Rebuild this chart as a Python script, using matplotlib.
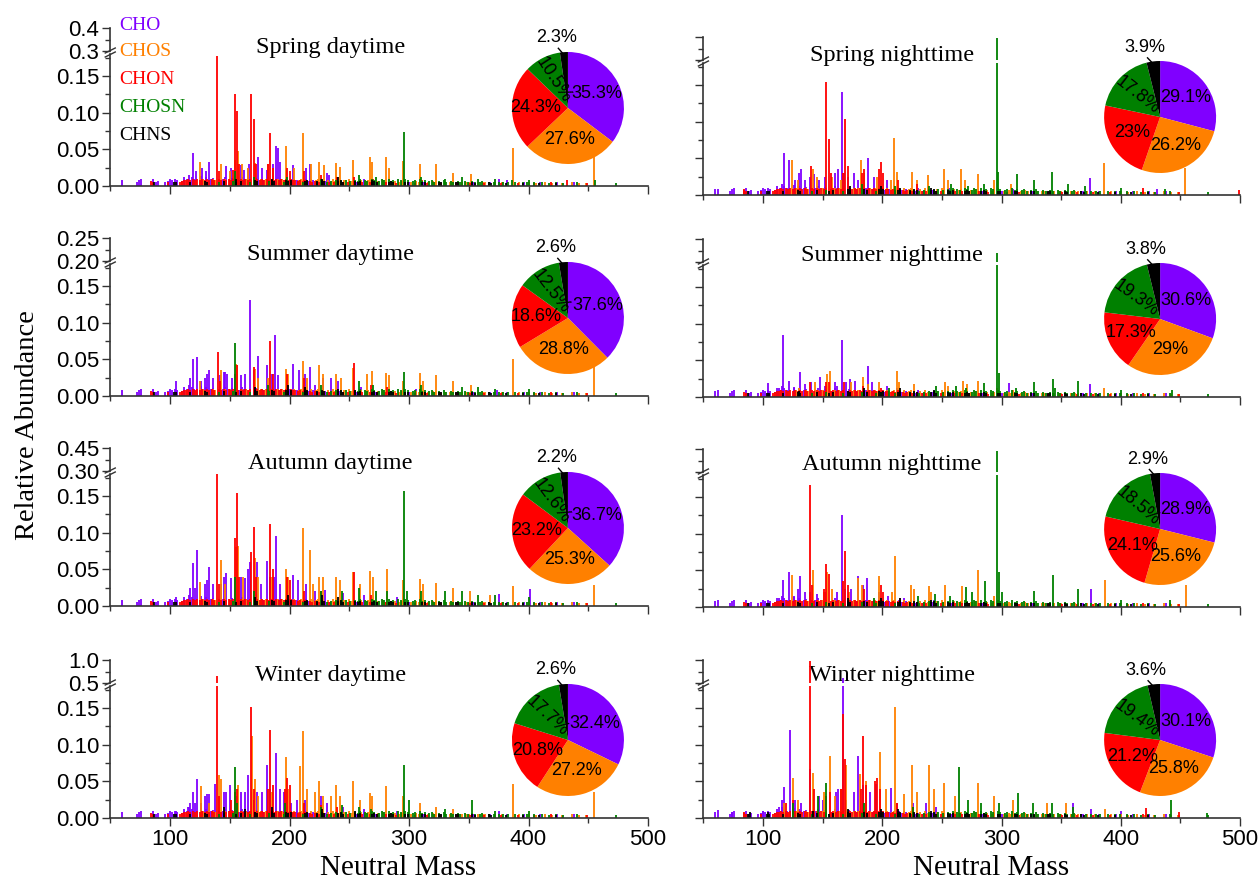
import math
import matplotlib.pyplot as plt
from matplotlib.lines import Line2D
from matplotlib.ticker import MultipleLocator, FixedLocator

plt.rcParams['font.family'] = ['Liberation Sans', 'DejaVu Sans']

CLASSES = ['CHO', 'CHOS', 'CHON', 'CHOSN', 'CHNS']
COLORS = ['#8000ff', '#ff8000', '#ff0000', '#008000', '#000000']

# low-level peaks common to every sample, (neutral mass, relative abundance)
CHO_BASE = [(60, .008), (72, .006), (74, .008), (76, .009), (86, .009), (88, .006), (90, .007), (96, .006),
            (98, .007), (100, .009), (102, .008), (104, .01), (106, .008), (110, .007), (112, .012), (114, .009),
            (116, .015), (118, .012), (120, .01), (126, .014), (128, .01), (130, .012), (134, .009), (136, .011),
            (144, .01), (146, .012), (150, .009), (152, .011), (158, .008), (160, .012), (162, .01), (164, .009),
            (172, .011), (176, .01), (178, .008), (186, .009), (190, .01), (192, .008), (200, .009), (202, .007),
            (206, .008), (214, .009), (216, .007), (220, .008), (228, .006), (230, .007), (234, .006), (242, .007),
            (244, .006), (256, .006), (258, .005), (270, .006), (272, .005), (284, .005), (300, .005), (312, .006),
            (326, .005), (340, .006), (354, .005), (368, .005), (382, .006), (396, .005), (410, .006), (424, .005),
            (438, .006)]
CHOS_BASE = [(110, .006), (114, .008), (122, .007), (128, .009), (136, .01), (138, .008), (146, .009), (150, .01),
             (160, .009), (164, .01), (166, .008), (176, .009), (180, .01), (182, .008), (190, .009), (194, .01),
             (196, .008), (204, .009), (208, .008), (210, .01), (218, .009), (222, .008), (224, .009), (232, .008),
             (236, .009), (238, .007), (246, .008), (250, .009), (252, .007), (260, .008), (264, .007), (266, .008),
             (274, .007), (278, .008), (280, .006), (288, .007), (292, .006), (294, .007), (302, .006), (306, .007),
             (308, .006), (316, .006), (320, .007), (322, .005), (330, .006), (334, .005), (336, .006), (344, .005),
             (348, .006), (350, .005), (358, .005), (362, .006), (364, .005), (372, .005), (378, .005), (392, .005),
             (400, .005), (406, .004), (414, .005), (420, .004), (428, .004), (436, .005), (442, .004), (448, .004)]
CHON_BASE = [(84, .007), (86, .006), (98, .006), (108, .006), (110, .007), (112, .008), (113, .008), (115, .009),
             (117, .008), (119, .009), (121, .008), (123, .009), (125, .008), (127, .009), (129, .008), (131, .009),
             (133, .008), (135, .009), (137, .008), (141, .009), (143, .008), (145, .009), (147, .008), (149, .009),
             (151, .008), (153, .009), (157, .008), (159, .009), (161, .008), (163, .009), (165, .008), (167, .009),
             (171, .008), (173, .009), (175, .008), (177, .009), (179, .008), (181, .009), (183, .008), (185, .009),
             (187, .008), (189, .009), (191, .008), (193, .009), (195, .008), (197, .009), (199, .008), (201, .009),
             (203, .008), (205, .008), (207, .007), (209, .008), (211, .007), (213, .008), (215, .007), (217, .007),
             (219, .006), (221, .007), (225, .006), (229, .007), (233, .006), (237, .006), (241, .006), (245, .005),
             (249, .006), (255, .005), (261, .005), (267, .005), (273, .005), (281, .005), (289, .004), (297, .005),
             (305, .004), (315, .004), (327, .004), (339, .004), (351, .004), (363, .004), (377, .004), (391, .004),
             (405, .004), (419, .005), (449, .004)]
CHOSN_BASE = [(141, .006), (153, .007), (167, .006), (183, .007), (195, .006), (199, .007), (211, .006), (215, .007),
              (223, .006), (227, .007), (231, .006), (235, .007), (239, .008), (243, .007), (247, .008), (251, .007),
              (255, .008), (257, .007), (259, .009), (263, .008), (265, .007), (269, .009), (271, .008), (275, .007),
              (277, .009), (279, .008), (283, .009), (285, .007), (287, .008), (291, .009), (293, .008), (297, .009),
              (299, .008), (303, .007), (305, .008), (309, .009), (311, .007), (313, .008), (317, .007), (319, .008),
              (321, .006), (325, .007), (329, .008), (331, .006), (335, .007), (337, .006), (341, .007), (343, .006),
              (347, .007), (349, .006), (353, .007), (355, .006), (359, .006), (361, .007), (367, .006), (371, .006),
              (375, .005), (379, .006), (383, .005), (389, .005), (395, .006), (399, .005), (405, .005), (411, .005),
              (417, .004), (423, .005), (429, .004), (441, .005), (473, .004)]
CHNS_BASE = [(87, .005), (103, .006), (105, .005), (117, .006), (129, .007), (131, .006), (145, .007), (155, .006),
             (159, .007), (171, .008), (173, .007), (185, .008), (187, .007), (197, .008), (199, .007), (201, .008),
             (213, .007), (215, .008), (223, .007), (227, .008), (229, .007), (241, .007), (243, .008), (245, .006),
             (255, .007), (257, .006), (259, .007), (269, .006), (271, .007), (273, .006), (283, .006), (285, .007),
             (287, .006), (297, .006), (299, .005), (311, .006), (313, .005), (325, .005), (327, .006), (339, .005),
             (341, .005), (353, .005), (355, .004), (367, .005), (369, .004), (381, .004), (395, .004), (409, .004),
             (423, .004)]
BASE = [CHO_BASE, CHOS_BASE, CHON_BASE, CHOSN_BASE, CHNS_BASE]

# main peaks of each sample
SPRING_DAY = {
    'CHO': [(119, .045), (122, .02), (127, .025), (130, .02), (133, .033), (147, .027), (151, .025), (159, .028),
            (162, .022), (165, .025), (166, .03), (174, .039), (177, .025), (181, .022), (186, .03), (189, .054),
            (190, .052), (192, .033), (203, .028), (214, .025), (217, .03), (231, .018), (233, .015), (262, .01),
            (375, .01), (382, .008)],
    'CHOS': [(125, .033), (143, .03), (150, .02), (154, .035), (157, .048), (160, .03), (165, .025), (171, .032),
             (182, .03), (186, .025), (197, .055), (204, .025), (211, .072), (218, .03), (225, .033), (229, .028),
             (239, .031), (242, .026), (253, .036), (267, .039), (269, .033), (281, .039), (283, .025), (295, .034),
             (309, .03), (323, .03), (337, .018), (352, .016), (387, .052), (455, .075)],
    'CHON': [(139, .177), (141, .02), (153, .022), (154, .125), (156, .102), (158, .03), (168, .126), (170, .092),
             (172, .03), (182, .03), (184, .072), (186, .025), (198, .025), (200, .02), (212, .02), (226, .015),
             (240, .012), (254, .012), (270, .01), (311, .008), (432, .008)],
    'CHOSN': [(154, .02), (170, .012), (198, .012), (226, .01), (258, .015), (272, .012), (296, .074), (310, .012),
              (330, .01), (344, .012), (358, .01), (372, .01), (386, .008), (400, .008), (456, .008)],
    'CHNS': [(155, .01), (185, .01), (227, .01), (241, .012), (269, .008)],
}
SPRING_NIGHT = {
    'CHO': [(62, .008), (118, .057), (122, .048), (127, .02), (130, .03), (132, .035), (135, .02), (139, .025),
            (143, .028), (147, .02), (152, .025), (160, .03), (163, .035), (166, .141), (168, .03), (171, .025),
            (176, .03), (180, .02), (188, .05), (193, .025), (204, .02), (230, .01), (256, .01), (310, .008),
            (374, .023), (430, .008)],
    'CHOS': [(124, .048), (129, .02), (142, .035), (145, .025), (158, .025), (165, .02), (182, .048), (185, .03),
             (196, .025), (207, .02), (210, .078), (212, .032), (225, .031), (229, .02), (238, .027), (252, .035),
             (255, .02), (266, .035), (269, .02), (280, .029), (294, .02), (308, .015), (386, .044), (454, .037)],
    'CHON': [(84, .008), (140, .039), (153, .154), (155, .076), (157, .03), (167, .03), (169, .104), (171, .04),
             (183, .03), (185, .035), (197, .035), (199, .045), (201, .03), (213, .02), (229, .015), (419, .01),
             (499, .007)],
    'CHOSN': [(183, .015), (211, .012), (239, .012), (258, .015), (272, .012), (285, .015), (296, .395), (297, .032),
              (313, .029), (327, .02), (342, .031), (356, .015), (370, .012), (400, .01), (437, .008)],
    'CHNS': [(173, .012), (199, .012), (215, .01), (241, .01)],
}
SUMMER_DAY = {
    'CHO': [(105, .021), (115, .01), (117, .025), (119, .051), (123, .053), (126, .02), (129, .025), (131, .03),
            (133, .036), (136, .025), (142, .028), (145, .033), (146, .033), (148, .03), (152, .025), (159, .028),
            (163, .03), (167, .131), (170, .035), (174, .055), (181, .042), (185, .03), (188, .083), (190, .028),
            (203, .044), (208, .035), (213, .03), (217, .039), (221, .015), (228, .025), (235, .025), (241, .02),
            (260, .012), (306, .01), (374, .008)],
    'CHOS': [(125, .02), (143, .036), (155, .043), (156, .042), (171, .037), (174, .025), (182, .025), (197, .037),
             (199, .03), (211, .048), (215, .025), (225, .042), (228, .03), (239, .03), (243, .025), (253, .038),
             (265, .03), (269, .034), (281, .031), (283, .028), (295, .02), (309, .031), (312, .02), (323, .029),
             (337, .02), (352, .015), (387, .05), (455, .06)],
    'CHON': [(140, .06), (142, .02), (154, .03), (156, .042), (170, .04), (184, .075), (186, .03), (198, .03),
             (212, .025), (254, .045), (268, .015), (282, .012)],
    'CHOSN': [(154, .072), (182, .015), (226, .015), (258, .02), (270, .015), (296, .033), (310, .015), (344, .012),
              (358, .012), (372, .01), (400, .01)],
    'CHNS': [(171, .012), (199, .015), (213, .012), (241, .01), (255, .008)],
}
SUMMER_NIGHT = {
    'CHO': [(62, .01), (104, .019), (113, .012), (117, .084), (122, .022), (126, .012), (131, .034), (135, .018),
            (140, .02), (148, .027), (152, .015), (160, .02), (162, .015), (166, .078), (170, .02), (173, .025),
            (177, .022), (188, .042), (191, .02), (204, .015), (212, .012), (230, .01), (306, .019), (374, .018)],
    'CHOS': [(130, .012), (144, .02), (154, .031), (156, .036), (174, .02), (184, .027), (188, .018), (197, .02),
             (212, .036), (214, .02), (227, .018), (253, .02), (255, .015), (268, .022), (271, .018), (280, .022),
             (296, .012), (310, .01), (386, .012)],
    'CHON': [(139, .02), (153, .02), (155, .02), (168, .02), (184, .015), (199, .012), (213, .01)],
    'CHOSN': [(206, .012), (245, .015), (262, .015), (270, .012), (285, .019), (296, .22), (298, .033), (312, .012),
              (327, .02), (343, .025), (345, .012), (364, .022), (400, .01), (443, .01)],
    'CHNS': [(130, .008), (185, .012), (215, .012), (243, .01)],
}
AUTUMN_DAY = {
    'CHO': [(105, .012), (117, .025), (119, .058), (121, .025), (123, .076), (129, .03), (131, .035), (133, .053),
            (136, .03), (143, .03), (145, .04), (147, .045), (151, .038), (159, .04), (163, .038), (165, .05),
            (167, .06), (173, .06), (176, .03), (181, .061), (184, .04), (187, .04), (189, .096), (192, .03),
            (203, .042), (207, .035), (214, .03), (221, .02), (230, .022), (245, .018), (262, .015), (290, .012),
            (375, .016), (401, .023)],
    'CHOS': [(125, .033), (143, .063), (146, .03), (155, .08), (157, .082), (161, .04), (171, .065), (174, .04),
             (185, .04), (197, .051), (199, .04), (211, .107), (217, .077), (220, .03), (225, .04), (228, .04),
             (239, .04), (242, .035), (253, .047), (259, .03), (267, .048), (270, .04), (282, .051), (295, .035),
             (309, .037), (312, .03), (323, .032), (337, .025), (351, .02), (368, .015), (387, .027), (455, .029)],
    'CHON': [(139, .18), (141, .03), (154, .093), (156, .154), (158, .04), (168, .073), (170, .108), (172, .04),
             (184, .112), (186, .05), (198, .04), (200, .035), (212, .02), (226, .02), (254, .047), (268, .015)],
    'CHOSN': [(154, .04), (170, .02), (226, .02), (244, .02), (258, .025), (272, .02), (282, .02), (296, .157),
              (298, .02), (310, .02), (330, .02), (344, .02), (358, .015), (372, .015), (400, .012)],
    'CHNS': [(171, .012), (199, .015), (227, .015), (241, .012)],
}
AUTUMN_NIGHT = {
    'CHO': [(62, .01), (113, .012), (117, .037), (122, .048), (126, .015), (129, .025), (131, .042), (135, .02),
            (139, .02), (145, .018), (152, .02), (162, .02), (166, .125), (169, .025), (174, .025), (180, .042),
            (184, .03), (187, .039), (197, .02), (205, .015), (218, .012), (243, .01), (375, .024)],
    'CHOS': [(124, .043), (142, .051), (151, .02), (154, .048), (158, .025), (172, .02), (180, .04), (183, .03),
             (197, .042), (208, .02), (211, .069), (224, .03), (227, .025), (239, .028), (241, .02), (253, .03),
             (267, .028), (280, .051), (294, .015), (387, .037), (455, .03)],
    'CHON': [(139, .166), (141, .03), (151, .025), (153, .058), (155, .045), (167, .035), (169, .077), (171, .03),
             (185, .025), (199, .03), (201, .02), (215, .012)],
    'CHOSN': [(193, .012), (230, .015), (244, .018), (257, .015), (270, .027), (275, .02), (286, .036), (296, .44),
              (298, .048), (300, .02), (327, .022), (343, .043), (364, .024), (400, .01), (441, .01)],
    'CHNS': [(171, .012), (199, .012), (215, .012), (241, .01)],
}
WINTER_DAY = {
    'CHO': [(105, .01), (115, .015), (117, .02), (119, .036), (121, .02), (123, .053), (126, .02), (129, .03),
            (131, .033), (133, .033), (138, .046), (141, .025), (145, .035), (147, .035), (150, .045), (155, .03),
            (159, .035), (163, .035), (165, .059), (170, .025), (173, .035), (177, .035), (181, .072), (184, .04),
            (189, .088), (192, .04), (195, .035), (201, .02), (206, .025), (213, .025), (226, .03), (231, .02),
            (245, .015), (262, .012), (290, .01), (375, .01)],
    'CHOS': [(126, .044), (133, .02), (141, .059), (143, .053), (154, .035), (157, .045), (169, .112), (171, .053),
             (174, .03), (185, .035), (197, .083), (199, .04), (209, .071), (211, .119), (215, .04), (221, .035),
             (225, .05), (228, .03), (235, .03), (239, .045), (242, .03), (253, .05), (259, .025), (267, .034),
             (269, .03), (281, .044), (295, .03), (309, .02), (323, .015), (337, .012), (387, .046), (455, .035)],
    'CHON': [(139, .65), (141, .03), (151, .025), (154, .035), (156, .04), (168, .152), (170, .04), (182, .04),
             (184, .12), (186, .045), (196, .04), (198, .055), (200, .045), (212, .02), (226, .018), (240, .015)],
    'CHOSN': [(154, .069), (156, .02), (196, .02), (226, .015), (244, .018), (258, .015), (268, .012), (296, .072),
              (300, .025), (330, .012), (353, .025), (372, .01), (400, .01)],
    'CHNS': [(145, .015), (163, .012), (185, .015), (227, .012), (255, .01)],
}
WINTER_NIGHT = {
    'CHO': [(62, .011), (74, .008), (100, .01), (113, .015), (116, .025), (118, .042), (123, .12), (127, .025),
            (132, .02), (139, .067), (147, .03), (150, .025), (161, .035), (163, .04), (167, .61), (170, .025),
            (176, .035), (180, .085), (184, .045), (190, .035), (195, .046), (207, .041), (212, .02), (226, .02),
            (237, .02), (245, .015), (360, .021), (375, .012), (400, .01)],
    'CHOS': [(118, .02), (125, .055), (129, .025), (142, .061), (151, .035), (156, .084), (160, .03), (165, .04),
             (170, .072), (181, .06), (186, .05), (198, .09), (203, .04), (211, .151), (218, .033), (225, .072),
             (229, .035), (239, .072), (243, .04), (252, .048), (261, .03), (280, .048), (294, .03), (310, .025),
             (338, .02), (354, .021), (387, .012)],
    'CHON': [(84, .008), (119, .02), (125, .025), (139, .98), (143, .04), (153, .03), (156, .035), (165, .04),
             (167, .142), (169, .08), (182, .04), (184, .112), (186, .045), (194, .05), (196, .054), (198, .04),
             (212, .02), (226, .015), (421, .013), (449, .008)],
    'CHOSN': [(125, .02), (146, .03), (153, .048), (185, .02), (226, .015), (264, .07), (272, .025), (283, .02),
              (298, .02), (314, .034), (326, .02), (342, .021), (360, .015), (442, .024), (472, .007)],
    'CHNS': [(89, .008), (104, .008), (142, .01), (171, .012), (199, .012), (213, .012), (241, .01)],
}

# class shares (%) in the order CHO, CHOS, CHON, CHOSN, CHNS
PIE_SPRING_DAY = [35.3, 27.6, 24.3, 10.5, 2.3]
PIE_SPRING_NIGHT = [29.1, 26.2, 23, 17.8, 3.9]
PIE_SUMMER_DAY = [37.6, 28.8, 18.6, 12.5, 2.6]
PIE_SUMMER_NIGHT = [30.6, 29, 17.3, 19.3, 3.8]
PIE_AUTUMN_DAY = [36.7, 25.3, 23.2, 12.6, 2.2]
PIE_AUTUMN_NIGHT = [28.9, 25.6, 24.1, 18.5, 2.9]
PIE_WINTER_DAY = [32.4, 27.2, 20.8, 17.7, 2.6]
PIE_WINTER_NIGHT = [30.1, 25.8, 21.2, 19.4, 3.6]

TITLES = ['Spring daytime', 'Spring nighttime', 'Summer daytime', 'Summer nighttime',
          'Autumn daytime', 'Autumn nighttime', 'Winter daytime', 'Winter nighttime']
SPECTRA = [SPRING_DAY, SPRING_NIGHT, SUMMER_DAY, SUMMER_NIGHT,
           AUTUMN_DAY, AUTUMN_NIGHT, WINTER_DAY, WINTER_NIGHT]
PIES = [PIE_SPRING_DAY, PIE_SPRING_NIGHT, PIE_SUMMER_DAY, PIE_SUMMER_NIGHT,
        PIE_AUTUMN_DAY, PIE_AUTUMN_NIGHT, PIE_WINTER_DAY, PIE_WINTER_NIGHT]
UPPER_RANGE = [(0.3, 0.4), (0.20, 0.25), (0.30, 0.45), (0.5, 1.0)]
UPPER_LABELS = [('0.3', '0.4'), ('0.20', '0.25'), ('0.30', '0.45'), ('0.5', '1.0')]

W, H = 1260, 882
fig = plt.figure(figsize=(W / 100, H / 100), dpi=100)

COL_X = [(110.25, 648.0), (703.4, 1240.0)]
ROW_BOTTOM = [[186, 396, 606, 818], [195, 397, 607, 818]]
LOW_H, GAP, UP_H = 132, 3, 23
SPINE = '#333333'


def box(x0, x1, ytop, ybot):
    return [x0 / W, 1 - ybot / H, (x1 - x0) / W, (ybot - ytop) / H]


def px_line(xs, ys, **kw):
    fig.add_artist(Line2D([x / W for x in xs], [1 - y / H for y in ys], transform=fig.transFigure, **kw))


def style(ax):
    for s in ['top', 'right']:
        ax.spines[s].set_visible(False)
    for s in ['left', 'bottom']:
        ax.spines[s].set_color(SPINE)
        ax.spines[s].set_linewidth(1.2)
    ax.tick_params(which='both', direction='out', color=SPINE, width=1.0, labelsize=16, pad=2)
    ax.tick_params(which='major', length=6)
    ax.tick_params(which='minor', length=3.5)
    ax.set_facecolor('none')


def draw_bars(ax, spec):
    for i, cls in enumerate(CLASSES):
        pts = BASE[i] + spec[cls]
        m = [p[0] for p in pts]
        a = [p[1] for p in pts]
        ax.vlines(m, 0, a, colors=COLORS[i], lw=1.3)


for k in range(8):
    row, col = k // 2, k % 2
    x0, x1 = COL_X[col]
    B = ROW_BOTTOM[col][row]

    low = fig.add_axes(box(x0, x1, B - LOW_H, B))
    up = fig.add_axes(box(x0, x1, B - LOW_H - GAP - UP_H, B - LOW_H - GAP))
    for ax in (low, up):
        style(ax)
        draw_bars(ax, SPECTRA[k])
        ax.set_xlim(50, 500)

    low.set_ylim(0, LOW_H / 733)
    low.yaxis.set_major_locator(FixedLocator([0, 0.05, 0.10, 0.15]))
    low.yaxis.set_minor_locator(FixedLocator([0.025, 0.075, 0.125, 0.175]))
    low.xaxis.set_major_locator(MultipleLocator(100))
    low.xaxis.set_minor_locator(MultipleLocator(50))
    if col == 0:
        low.set_yticklabels(['0.00', '0.05', '0.10', '0.15'])
    else:
        low.set_yticklabels([])
    if row != 3:
        low.set_xticklabels([])

    lo, hi = UPPER_RANGE[row]
    up.set_ylim(lo, hi)
    up.spines['bottom'].set_visible(False)
    up.set_xticks([])
    up.yaxis.set_major_locator(FixedLocator([lo, hi]))
    up.yaxis.set_minor_locator(FixedLocator([(lo + hi) / 2]))
    up.set_yticklabels(UPPER_LABELS[row] if col == 0 else [])

    # break marks on the y axis
    yb = B - LOW_H - GAP / 2
    for dy in (-2.0, 2.0):
        px_line([x0 - 5, x0 + 5], [yb + dy + 2.5, yb + dy - 2.5], color=SPINE, lw=1.0)

    # title
    tx = 234 if col == 0 else 208
    ty = 139 if row == 0 else 142
    low.text(tx, ty / LOW_H, TITLES[k], transform=low.get_xaxis_transform(),
             ha='center', va='center', fontsize=17.5, family='Liberation Serif')

    # composition pie
    cx = x0 + (433 - 50) * (x1 - x0) / 450
    cy = B - 78
    r = 56
    pax = fig.add_axes(box(cx - r, cx + r, cy - r, cy + r))
    vals = PIES[k]
    pax.pie(vals, colors=COLORS, startangle=90, counterclock=False, radius=1.0,
            wedgeprops=dict(linewidth=0))
    pax.set_xlim(-1, 1)
    pax.set_ylim(-1, 1)
    pax.set_aspect('equal')
    pax.axis('off')
    total = sum(vals)
    cum = 0
    for i, v in enumerate(vals):
        mid = 90 - 360 * (cum + v / 2) / total
        cum += v
        lab = f'{v:g}%'
        th = math.radians(mid)
        if i == 4:
            tth = math.radians(mid + 5)
            pax.plot([0.95 * math.cos(th), 1.08 * math.cos(tth)],
                     [0.95 * math.sin(th), 1.08 * math.sin(tth)], color='black', lw=1.0, clip_on=False)
            pax.text(1.27 * math.cos(tth), 1.27 * math.sin(tth), lab, ha='center', va='center',
                     fontsize=13)
        else:
            rot = mid - 174 if i == 3 else 0
            pax.text(0.57 * math.cos(th), 0.57 * math.sin(th), lab, ha='center', va='center',
                     fontsize=13, rotation=rot)

# legend
for i, cls in enumerate(CLASSES):
    ly = [25, 52, 80, 107, 135][i]
    fig.text(119 / W, 1 - ly / H, cls, color=COLORS[i], fontsize=14,
             family='Liberation Serif', ha='left', va='center')

fig.text(28 / W, 1 - 425 / H, 'Relative Abundance', rotation=90, ha='center', va='center',
         fontsize=20.5, family='Liberation Serif')
fig.text(398 / W, 1 - 868 / H, 'Neutral Mass', ha='center', va='center', fontsize=21,
         family='Liberation Serif')
fig.text(991 / W, 1 - 868 / H, 'Neutral Mass', ha='center', va='center', fontsize=21,
         family='Liberation Serif')

fig.savefig('out.png', dpi=100)
